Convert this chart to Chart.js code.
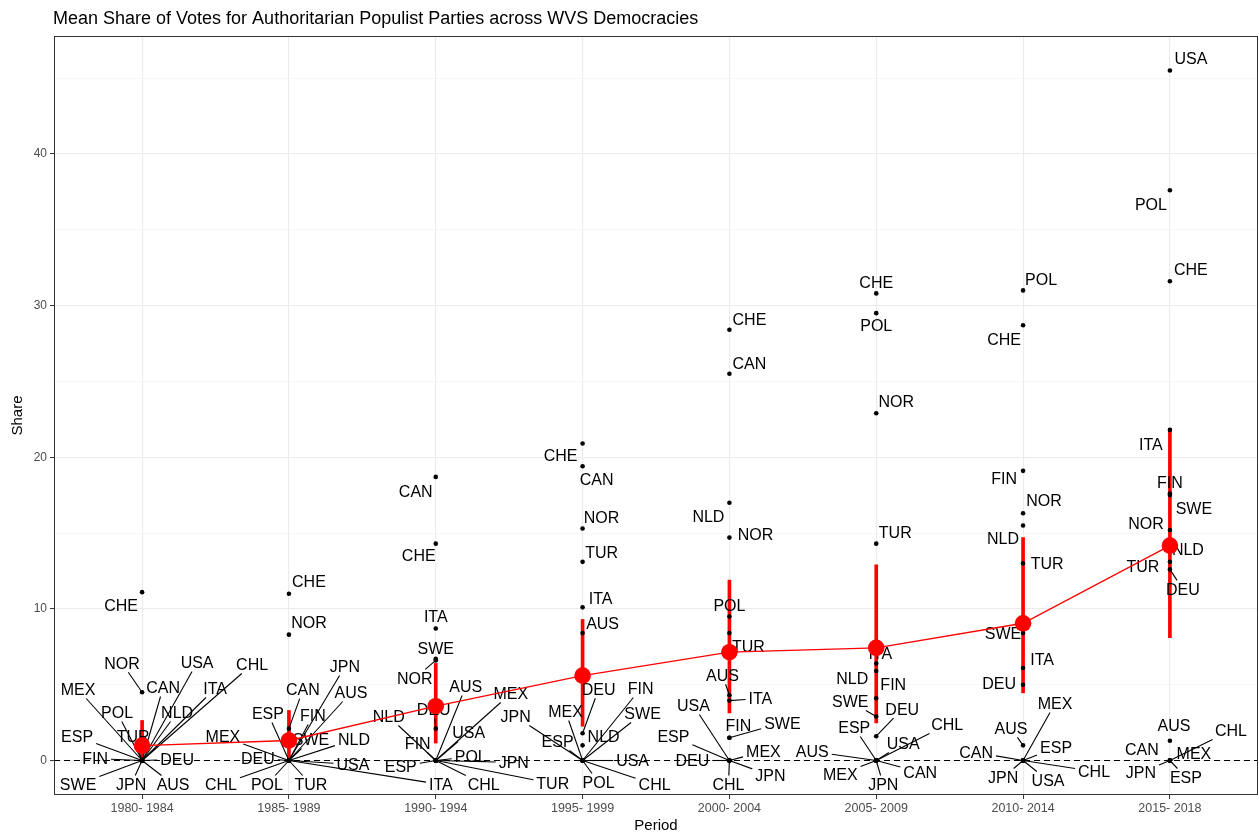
<!DOCTYPE html>
<html>
<head>
<meta charset="utf-8">
<title>Mean Share of Votes for Authoritarian Populist Parties across WVS Democracies</title>
<script src="https://cdn.jsdelivr.net/npm/chart.js@4.4.1/dist/chart.umd.min.js"></script>
<style>
  html, body { margin: 0; padding: 0; background: #ffffff; }
  canvas { display: block; }
</style>
</head>
<body>
<canvas id="chart" width="1259" height="835"></canvas>
<script>
// Periods (x axis) and countries
const periods = ["1980- 1984", "1985- 1989", "1990- 1994", "1995- 1999",
                 "2000- 2004", "2005- 2009", "2010- 2014", "2015- 2018"];
const countries = ["AUS", "CAN", "CHE", "CHL", "DEU", "ESP", "FIN", "ITA",
                   "JPN", "MEX", "NLD", "NOR", "POL", "SWE", "TUR", "USA"];

// Vote share of authoritarian populist parties, same order as countries
const share1980 = [0, 0, 11.1, 0, 0, 0, 0, 0, 0, 0, 0, 4.5, 0, 0, 0, 0];
const share1985 = [0, 2.1, 11.0, 0, 0, 0, 0, 0, 0, 0, 0, 8.3, 0, 0, 0, 0];
const share1990 = [0, 18.7, 14.3, 0, 2.1, 0, 0, 8.7, 0, 0, 0, 6.6, 0, 6.7, 0, 0];
const share1995 = [8.4, 19.4, 20.9, 0, 1.8, 0, 0, 10.1, 0, 0, 1.0, 15.3, 0, 0, 13.1, 0];
const share2000 = [4.3, 25.5, 28.4, 0, 0, 0, 1.5, 3.95, 0, 0, 17.0, 14.7, 9.5, 1.5, 8.4, 0];
const share2005 = [0, 0, 30.8, 0, 1.6, 0, 4.1, 6.4, 0, 0, 5.9, 22.9, 29.5, 2.9, 14.3, 0];
const share2010 = [1.0, 0, 28.7, 0, 5.0, 0, 19.1, 6.1, 0, 0, 15.5, 16.3, 31.0, 8.4, 13.0, 0];
const share2015 = [1.3, 0, 31.6, 0, 12.6, 0, 17.6, 21.8, 0, 0, 14.2, 15.2, 37.6, 17.5, 13.1, 45.5];
const shares = [share1980, share1985, share1990, share1995, share2000, share2005, share2010, share2015];

// Mean share per period and its interval
const meanShare = [0.98, 1.32, 3.58, 5.6, 7.14, 7.43, 9.05, 14.17];
const ciLow = [0, 0, 1.15, 2.26, 3.14, 2.48, 4.46, 8.1];
const ciHigh = [2.64, 3.3, 6.4, 9.3, 11.9, 12.9, 14.7, 21.9];

// Y axis ticks
const yMajor = [0, 10, 20, 30, 40];
const yMinor = [5, 15, 25, 35, 45];

// Label placement: pixel offset [dx, dy] of each label from its point (country order)
const labelNudge = [
  [[31,24],[21,-73],[-21,13],[110,-96],[35,-1],[-65,-24],[-47,-2],[73,-72],[-11,24],[-64,-71],[35,-48],[-20,-29],[-25,-48],[-64,24],[-9,-24],[55,-98]],
  [[62,-68],[14,-39],[20,-12],[-68,24],[-31,-2],[-21,-47],[24,-45],[152,24],[56,-94],[-66,-24],[65,-21],[20,-12],[-22,24],[22,-21],[22,24],[64,4]],
  [[30,-74],[-20,14],[-17,12],[48,24],[-2,-19],[-35,6],[-18,-17],[0,-12],[78,2],[75,-67],[-47,-44],[-21,18],[35,-4],[0,-11],[117,23],[33,-28]],
  [[20,-10],[14,13],[-22,12],[72,24],[16,-44],[-25,-19],[58,-72],[18,-9],[-67,-44],[-17,-49],[21,-9],[19,-11],[16,22],[60,-47],[19,-10],[50,0]],
  [[-7,-20],[20,-11],[20,-11],[-1,24],[-37,0],[-56,-24],[9,-13],[31,-2],[41,15],[34,-9],[-21,14],[26,-3],[0,-11],[53,-15],[19,13],[-36,-55]],
  [[-64,-9],[44,12],[0,-11],[71,-36],[26,-27],[-22,-33],[17,-14],[4,-10],[7,24],[-36,14],[-24,7],[20,-12],[0,12],[-26,-15],[19,-11],[27,-17]],
  [[-12,-17],[-47,-8],[-19,14],[71,11],[-24,-1],[33,-13],[-19,7],[19,-9],[-20,17],[32,-57],[-20,13],[21,-13],[18,-11],[-20,0],[24,0],[25,20]],
  [[4,-16],[-28,-11],[21,-12],[61,-30],[13,20],[16,17],[0,-11],[-19,14],[-29,12],[24,-7],[18,4],[-24,-7],[-19,14],[24,13],[-27,4],[21,-12]]
];

const FONT = "'Liberation Sans', Arial, Helvetica, sans-serif";

// ggplot-like expansion of the y range
const dataMax = Math.max(...shares.flat(), ...ciHigh);
const yMax = dataMax * 1.05;
const yMin = -dataMax * 0.05;

// Build datasets from the arrays above
const pointData = [];
shares.forEach((row, i) => {
  row.forEach((v, c) => pointData.push({ x: i, y: v, country: countries[c], nudge: labelNudge[i][c] }));
});
const meanData = meanShare.map((v, i) => ({ x: i, y: v }));
const ciData = ciLow.map((lo, i) => ({ x: i, y: [lo, ciHigh[i]] }));

// Draw one repelled label; the leader segment stops at the padded label box
function drawLabel(ctx, text, px, py, nudge) {
  const cx = px + nudge[0];
  const cy = py + nudge[1];
  const hw = ctx.measureText(text).width / 2 + 3;
  const hh = 9;
  const vx = px - cx;
  const vy = py - cy;
  const tx = vx !== 0 ? hw / Math.abs(vx) : Infinity;
  const ty = vy !== 0 ? hh / Math.abs(vy) : Infinity;
  const t = Math.min(tx, ty);
  if (t < 1) {
    const ex = cx + vx * t;
    const ey = cy + vy * t;
    if (Math.hypot(px - ex, py - ey) > 9.5) {
      ctx.beginPath();
      ctx.moveTo(px, py);
      ctx.lineTo(ex, ey);
      ctx.stroke();
    }
  }
  ctx.fillText(text, cx, cy + 5.8);
}

const decorPlugin = {
  id: "decor",
  beforeDatasetsDraw(chart) {
    // dashed reference line at zero
    const { ctx, chartArea, scales } = chart;
    const y0 = scales.y.getPixelForValue(0);
    ctx.save();
    ctx.strokeStyle = "#000000";
    ctx.lineWidth = 1.1;
    ctx.setLineDash([6, 4]);
    ctx.beginPath();
    ctx.moveTo(chartArea.left, y0);
    ctx.lineTo(chartArea.right, y0);
    ctx.stroke();
    ctx.restore();
  },
  afterDatasetDraw(chart, args) {
    if (args.index !== 1) return;
    const { ctx, scales } = chart;
    ctx.save();
    ctx.font = "16px " + FONT;
    ctx.fillStyle = "#000000";
    ctx.strokeStyle = "#000000";
    ctx.lineWidth = 1.1;
    ctx.textAlign = "center";
    ctx.textBaseline = "alphabetic";
    pointData.forEach((p) => {
      drawLabel(ctx, p.country, scales.x.getPixelForValue(p.x), scales.y.getPixelForValue(p.y), p.nudge);
    });
    ctx.restore();
  },
  afterDraw(chart) {
    const { ctx, chartArea } = chart;
    ctx.save();
    // panel border
    ctx.strokeStyle = "#333333";
    ctx.lineWidth = 1;
    ctx.strokeRect(chartArea.left + 0.5, chartArea.top + 0.5,
      chartArea.right - chartArea.left - 1, chartArea.bottom - chartArea.top - 1);
    // title
    ctx.fillStyle = "#000000";
    ctx.font = "18px " + FONT;
    ctx.textAlign = "left";
    ctx.textBaseline = "alphabetic";
    ctx.fillText("Mean Share of Votes for Authoritarian Populist Parties across WVS Democracies", 53, 24);
    ctx.restore();
  }
};

const ctx = document.getElementById("chart").getContext("2d");
const chart = new Chart(ctx, {
  type: "scatter",
  data: {
    datasets: [
      {
        type: "line",
        label: "Mean",
        data: meanData,
        borderColor: "#ff0000",
        borderWidth: 1.3,
        backgroundColor: "#ff0000",
        pointRadius: 8.3,
        pointBorderWidth: 0,
        pointBackgroundColor: "#ff0000",
        tension: 0,
        fill: false
      },
      {
        type: "scatter",
        label: "Countries",
        data: pointData,
        pointRadius: 2.3,
        pointBorderWidth: 0,
        pointBackgroundColor: "#000000",
        backgroundColor: "#000000"
      },
      {
        type: "bar",
        label: "Interval",
        data: ciData,
        backgroundColor: "#ff0000",
        borderWidth: 0,
        barThickness: 3
      }
    ]
  },
  options: {
    responsive: false,
    animation: false,
    layout: { autoPadding: false, padding: { top: 36, right: 1, left: 0, bottom: 0 } },
    plugins: {
      legend: { display: false },
      tooltip: { enabled: false },
      title: { display: false }
    },
    scales: {
      x: {
        type: "linear",
        min: -0.6,
        max: 7.6,
        offset: false,
        afterBuildTicks: (scale) => { scale.ticks = periods.map((p, i) => ({ value: i })); },
        afterFit: (scale) => {
          scale.height = 40;
          scale.paddingLeft = 0;
          scale.paddingRight = 0;
        },
        ticks: {
          callback: (v) => periods[v],
          color: "#4d4d4d",
          font: { family: FONT, size: 12.5 },
          padding: 2,
          autoSkip: false,
          maxRotation: 0
        },
        grid: { offset: false, color: "#ebebeb", lineWidth: 1.1, tickLength: 4, tickColor: "#333333", tickWidth: 1 },
        border: { display: false },
        title: {
          display: true, text: "Period", color: "#000000",
          font: { family: FONT, size: 15 }, padding: { top: 0, bottom: 0 }
        }
      },
      y: {
        type: "linear",
        min: yMin,
        max: yMax,
        afterBuildTicks: (scale) => {
          scale.ticks = yMajor.concat(yMinor).sort((a, b) => a - b).map((v) => ({ value: v }));
        },
        afterFit: (scale) => {
          scale.width = 54;
          scale.paddingTop = 0;
          scale.paddingBottom = 0;
        },
        ticks: {
          callback: (v) => (yMajor.includes(v) ? String(v) : ""),
          color: "#4d4d4d",
          font: { family: FONT, size: 12 },
          padding: 3
        },
        grid: {
          color: (c) => (yMajor.includes(c.tick.value) ? "#ebebeb" : "#f2f2f2"),
          lineWidth: (c) => (yMajor.includes(c.tick.value) ? 1.1 : 0.7),
          tickLength: 4,
          tickColor: (c) => (yMajor.includes(c.tick.value) ? "#333333" : "rgba(0,0,0,0)"),
          tickWidth: 1
        },
        border: { display: false },
        title: {
          display: true, text: "Share", color: "#000000",
          font: { family: FONT, size: 15 }, padding: { top: 9, bottom: 0 }
        }
      }
    }
  },
  plugins: [decorPlugin]
});
</script>
</body>
</html>
